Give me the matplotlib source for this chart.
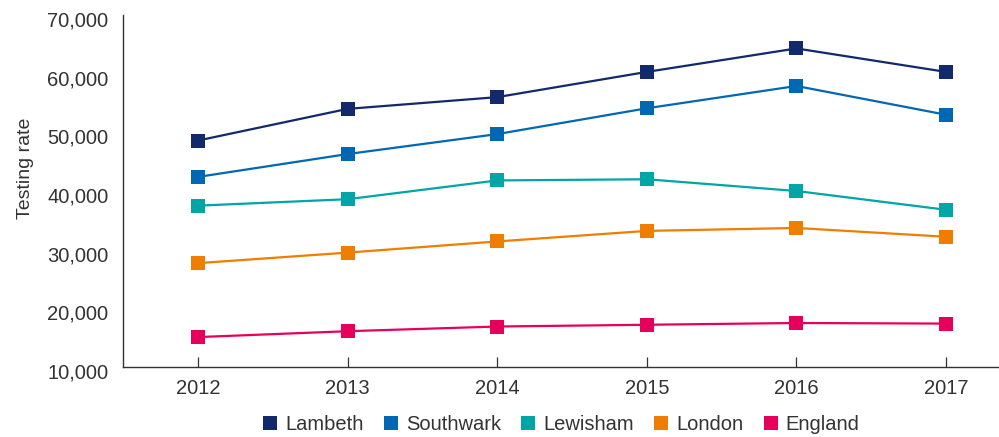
import matplotlib
matplotlib.use("Agg")
import matplotlib.pyplot as plt
from matplotlib.lines import Line2D
from matplotlib.ticker import FuncFormatter
from matplotlib.transforms import ScaledTranslation

years = [2012, 2013, 2014, 2015, 2016, 2017]
lambeth = [48600, 54000, 56000, 60300, 64300, 60300]
southwark = [42400, 46300, 49700, 54100, 57900, 53000]
lewisham = [37500, 38600, 41800, 42000, 40000, 36800]
london = [27700, 29500, 31400, 33200, 33700, 32200]
england = [15100, 16100, 16900, 17200, 17500, 17400]

series_names = ["Lambeth", "Southwark", "Lewisham", "London", "England"]
series_values = [lambeth, southwark, lewisham, london, england]
colors = ["#12296b", "#0068b3", "#00a6a6", "#ef7d00", "#e6005c"]

y_ticks = [10000, 20000, 30000, 40000, 50000, 60000, 70000]

plt.rcParams['font.family'] = ['Liberation Sans', 'DejaVu Sans']
text_color = "#333333"

W, H = 999, 437
fig = plt.figure(figsize=(W / 100, H / 100), dpi=100)
ax_left, ax_right, ax_top, ax_bottom = 123, 999, 15, 367
ax = fig.add_axes([ax_left / W, 1 - ax_bottom / H, (ax_right - ax_left) / W, (ax_bottom - ax_top) / H])

for name, vals, c in zip(series_names, series_values, colors):
    ax.plot(years, vals, color=c, lw=1.6, marker="s", markersize=10,
            markeredgewidth=0, label=name, solid_joinstyle="miter", zorder=3)

ax.set_xlim(2011.4987, 2017.354)
ax.set_ylim(10000, 70000)
ax.set_yticks(y_ticks)
ax.yaxis.set_major_formatter(FuncFormatter(lambda v, p: f"{int(v):,}"))
ax.set_xticks(years)

for s in ["top", "right"]:
    ax.spines[s].set_visible(False)
for s in ["left", "bottom"]:
    ax.spines[s].set_color(text_color)
    ax.spines[s].set_linewidth(1.0)

ax.tick_params(axis="x", direction="in", length=7.2, width=0.9, color=text_color,
               labelsize=14.5, labelcolor=text_color, pad=8.5)
ax.tick_params(axis="y", length=0, labelsize=14.5, labelcolor=text_color, pad=10.5)

shift = ScaledTranslation(0, -4 / 100, fig.dpi_scale_trans)
for lab in ax.get_yticklabels():
    lab.set_transform(lab.get_transform() + shift)

fig.text(26 / W, 1 - 168 / H, "Testing rate", rotation=90, ha="center", va="center",
         fontsize=14, color=text_color)

handles = [Line2D([0], [0], marker="s", color=c, lw=0, markersize=10, markeredgewidth=0)
           for c in colors]
fig.legend(handles, series_names, loc="center", bbox_to_anchor=(561 / W, 12 / H),
           ncol=5, frameon=False, fontsize=14.5, handlelength=0.8, handletextpad=0.35,
           columnspacing=0.95, labelcolor=text_color, borderpad=0)

fig.savefig("out.png", dpi=100)
